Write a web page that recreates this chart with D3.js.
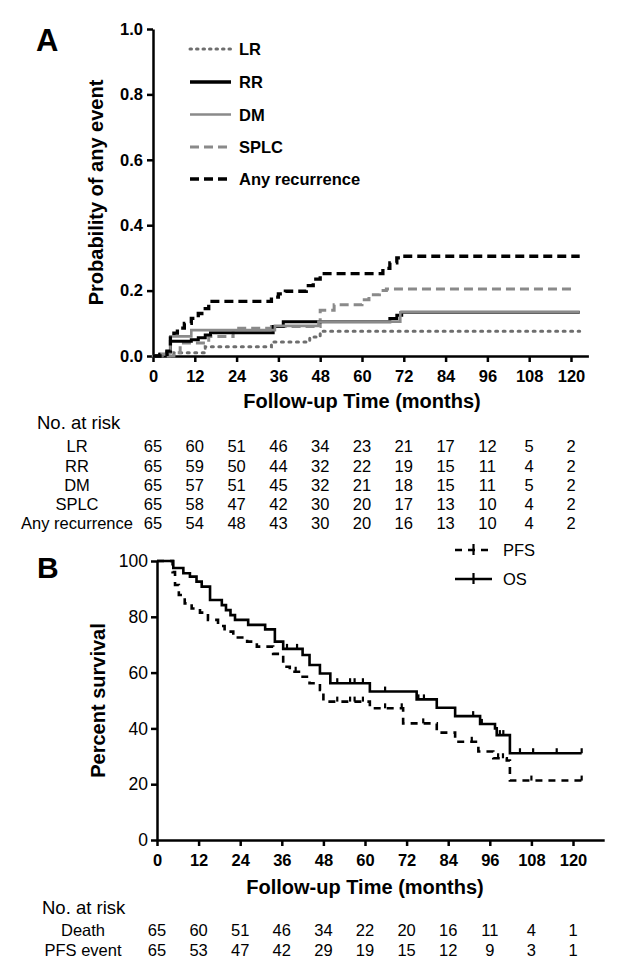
<!DOCTYPE html>
<html><head><meta charset="utf-8">
<script src="https://cdn.jsdelivr.net/npm/d3@7"></script>
<style>
html,body{margin:0;padding:0;background:#fff;}
text{font-family:"Liberation Sans",Arial,sans-serif;}
</style></head>
<body><svg id="chart" width="629" height="976"></svg>
<script>
// ---------- DATA ----------
const timeTicks = [0,12,24,36,48,60,72,84,96,108,120];
const probTicks = [0,0.2,0.4,0.6,0.8,1.0];
const survTicks = [0,20,40,60,80,100];

// Panel A cumulative incidence step data [month, probability]
const LR  = [[0,0],[6,0.01],[15,0.028],[34,0.043],[45,0.058],[48,0.076],[122.5,0.076]];
const RR  = [[0,0],[2,0.005],[4,0.012],[5,0.045],[11,0.05],[13,0.056],[15,0.064],[16.5,0.071],[34.5,0.09],[37.4,0.105],[68,0.115],[70,0.125],[71.4,0.134],[122.5,0.134]];
const DM  = [[0,0],[2,0.005],[4,0.012],[5,0.06],[11,0.079],[35,0.092],[47.5,0.105],[71,0.134],[122.5,0.134]];
const SPLC= [[0,0],[6,0.01],[7.8,0.04],[16,0.06],[23,0.085],[34,0.09],[48,0.14],[52,0.157],[60,0.172],[62,0.187],[65,0.2],[67,0.205],[121,0.205]];
const ANY = [[0,0],[2,0.005],[4,0.015],[5,0.055],[6,0.07],[7,0.085],[9,0.1],[11,0.115],[13,0.13],[15,0.145],[16,0.167],[34,0.18],[36,0.19],[38,0.198],[44,0.215],[46,0.235],[48,0.252],[66,0.268],[68,0.285],[70,0.3],[71.5,0.305],[122.5,0.305]];
const seriesNamesA = ["LR","RR","DM","SPLC","Any recurrence"];

// Panel B survival step data [month, percent]
const OS  = [[0,100],[4.7,97.5],[7.6,95.6],[9.5,94.4],[11.4,92.6],[12.9,90.8],[15.3,86],[18.7,84.2],[19.9,82.4],[21.2,80.6],[22.5,78.9],[26.3,77.1],[31.2,75.5],[34,71.1],[36.4,68.5],[42,66.3],[44,62.7],[47,59.7],[50,56.2],[61.4,53.2],[74.9,50.4],[80.7,47.4],[86,44.4],[93.2,41.6],[97.5,40],[98,37.6],[101.8,31.1],[122.5,31.1]];
const PFS = [[0,100],[4.5,96],[5.2,91.4],[6.3,87.8],[8,84.8],[10,83],[12.4,81.5],[14.7,78.9],[17.6,76.7],[19.5,74.7],[22,72.6],[26,71.1],[28.8,69.3],[33.5,66.7],[36.4,62.1],[38.3,60.3],[42,58.5],[44,56.2],[47,53.8],[48,49.6],[61.4,47.2],[71,41.8],[80.7,38.5],[86,35.2],[92.7,31.7],[97,29.3],[100.9,28.5],[101.8,21.3],[122.5,21.3]];
const osCensor  = [37.5,40.4,52,55.7,57,59.4,65.8,75.4,77,91.2,93.7,98.9,99.9,104.7,108.5,115.3,122.5];
const pfsCensor = [40,52,55.7,57,59.4,65.8,70.6,76.8,90.8,98.4,99.8,108,122.5];

// Risk tables
const riskLabelsA = ["LR","RR","DM","SPLC","Any recurrence"];
const riskA = [
  [65,60,51,46,34,23,21,17,12,5,2],
  [65,59,50,44,32,22,19,15,11,4,2],
  [65,57,51,45,32,21,18,15,11,5,2],
  [65,58,47,42,30,20,17,13,10,4,2],
  [65,54,48,43,30,20,16,13,10,4,2]
];
const riskLabelsB = ["Death","PFS event"];
const riskB = [
  [65,60,51,46,34,22,20,16,11,4,1],
  [65,53,47,42,29,19,15,12,9,3,1]
];

// ---------- DRAW ----------
const svg = d3.select("#chart");
const bold = "bold";

function styleAxis(g, fs){
  g.select(".domain").attr("stroke","#000").attr("stroke-width",2.5);
  g.selectAll(".tick line").attr("stroke","#000").attr("stroke-width",2.5);
  g.selectAll(".tick text").attr("fill","#000").attr("font-size",fs).attr("font-weight","bold")
    .attr("font-family","Liberation Sans, Arial, sans-serif");
}

// ===== Panel A =====
const xA = d3.scaleLinear().domain([0,125]).range([153,588.4]);
const yA = d3.scaleLinear().domain([0,1]).range([356,29]);

const gxA = svg.append("g").attr("transform",`translate(0,${yA(0)})`)
  .call(d3.axisBottom(xA).tickValues(timeTicks).tickSize(6).tickSizeOuter(0).tickPadding(8));
styleAxis(gxA,"16.5px");
const gyA = svg.append("g").attr("transform",`translate(${xA(0)},0)`)
  .call(d3.axisLeft(yA).tickValues(probTicks).tickFormat(d3.format(".1f")).tickSize(6).tickSizeOuter(0).tickPadding(4));
styleAxis(gyA,"16.5px");

const lineA = d3.line().x(d=>xA(d[0])).y(d=>yA(d[1])).curve(d3.curveStepAfter);
const stylesA = [
  {data:LR,  color:"#6e6e6e", w:3,   dash:"2,5.5", cap:"round"},
  {data:SPLC,color:"#8a8a8a", w:3,   dash:"9,5",   cap:"butt"},
  {data:RR,  color:"#000",    w:3,   dash:null,    cap:"butt"},
  {data:DM,  color:"#8a8a8a", w:2.6, dash:null,    cap:"butt"},
  {data:ANY, color:"#000",    w:3.3, dash:"9,5",   cap:"butt"}
];
stylesA.forEach(s=>{
  svg.append("path").attr("d",lineA(s.data)).attr("fill","none")
    .attr("stroke",s.color).attr("stroke-width",s.w)
    .attr("stroke-dasharray",s.dash).attr("stroke-linecap",s.cap);
});

// legend A
const legA = [
  {name:"LR", color:"#6e6e6e", w:3, dash:"1.5,5", cap:"round", y:49},
  {name:"RR", color:"#000", w:3.3, dash:null, cap:"butt", y:82},
  {name:"DM", color:"#8a8a8a", w:2.6, dash:null, cap:"butt", y:114.5},
  {name:"SPLC", color:"#8a8a8a", w:3, dash:"9,5", cap:"butt", y:147},
  {name:"Any recurrence", color:"#000", w:3.3, dash:"9,5", cap:"butt", y:179}
];
legA.forEach(l=>{
  svg.append("line").attr("x1",190).attr("x2",231).attr("y1",l.y).attr("y2",l.y)
    .attr("stroke",l.color).attr("stroke-width",l.w).attr("stroke-dasharray",l.dash).attr("stroke-linecap",l.cap);
  svg.append("text").attr("x",239).attr("y",l.y+6).attr("font-size","16.5px").attr("font-weight",bold).text(l.name);
});

svg.append("text").attr("x",36).attr("y",51).attr("font-size","31px").attr("font-weight",bold).text("A");
svg.append("text").attr("transform",`translate(103,${yA(0.5)}) rotate(-90)`).attr("text-anchor","middle")
  .attr("font-size","20px").attr("font-weight",bold).text("Probability of any event");
svg.append("text").attr("x",xA(60)).attr("y",408).attr("text-anchor","middle")
  .attr("font-size","20px").attr("font-weight",bold).text("Follow-up Time (months)");

// risk table A
svg.append("text").attr("x",37).attr("y",429).attr("font-size","18.5px").text("No. at risk");
const rowYA = [452,471.5,491,510,529];
riskA.forEach((row,i)=>{
  svg.append("text").attr("x",77).attr("y",rowYA[i]).attr("text-anchor","middle").attr("font-size","16.5px").text(riskLabelsA[i]);
  row.forEach((v,j)=>{
    svg.append("text").attr("x",xA(timeTicks[j])).attr("y",rowYA[i]).attr("text-anchor","middle").attr("font-size","16.5px").text(v);
  });
});

// ===== Panel B =====
const xB = d3.scaleLinear().domain([0,129]).range([157,604.2]);
const yB = d3.scaleLinear().domain([0,100]).range([840,561]);

const gxB = svg.append("g").attr("transform",`translate(0,${yB(0)})`)
  .call(d3.axisBottom(xB).tickValues(timeTicks).tickSize(6).tickSizeOuter(0).tickPadding(8));
styleAxis(gxB,"16.5px");
const gyB = svg.append("g").attr("transform",`translate(${xB(0)},0)`)
  .call(d3.axisLeft(yB).tickValues(survTicks).tickSize(6).tickSizeOuter(0).tickPadding(3));
styleAxis(gyB,"17px");
gyB.selectAll(".tick text").attr("font-weight","normal").attr("font-size","17.5px");

const lineB = d3.line().x(d=>xB(d[0])).y(d=>yB(d[1])).curve(d3.curveStepAfter);
svg.append("path").attr("d",lineB(PFS)).attr("fill","none").attr("stroke","#000")
  .attr("stroke-width",2.6).attr("stroke-dasharray","7,6");
svg.append("path").attr("d",lineB(OS)).attr("fill","none").attr("stroke","#000").attr("stroke-width",2.6);

function stepVal(data,t){ let v=data[0][1]; for(const d of data){ if(d[0]<=t) v=d[1]; } return v; }
osCensor.forEach(t=>{
  svg.append("line").attr("x1",xB(t)).attr("x2",xB(t)).attr("y1",yB(stepVal(OS,t))-5).attr("y2",yB(stepVal(OS,t)))
    .attr("stroke","#000").attr("stroke-width",2.2);
});
pfsCensor.forEach(t=>{
  svg.append("line").attr("x1",xB(t)).attr("x2",xB(t)).attr("y1",yB(stepVal(PFS,t))-5).attr("y2",yB(stepVal(PFS,t)))
    .attr("stroke","#000").attr("stroke-width",2.2);
});

// legend B
const legB = [{name:"PFS", dash:"7,6", y:550},{name:"OS", dash:null, y:579}];
legB.forEach(l=>{
  svg.append("line").attr("x1",455).attr("x2",492).attr("y1",l.y).attr("y2",l.y)
    .attr("stroke","#000").attr("stroke-width",2.6).attr("stroke-dasharray",l.dash);
  svg.append("line").attr("x1",473.5).attr("x2",473.5).attr("y1",l.y-6).attr("y2",l.y+5)
    .attr("stroke","#000").attr("stroke-width",2.2);
  svg.append("text").attr("x",503).attr("y",l.y+6).attr("font-size","16.5px").text(l.name);
});

svg.append("text").attr("x",37).attr("y",578).attr("font-size","30px").attr("font-weight",bold).text("B");
svg.append("text").attr("transform",`translate(105,${yB(50)}) rotate(-90)`).attr("text-anchor","middle")
  .attr("font-size","20px").attr("font-weight",bold).text("Percent survival");
svg.append("text").attr("x",xB(60)).attr("y",894).attr("text-anchor","middle")
  .attr("font-size","20px").attr("font-weight",bold).text("Follow-up Time (months)");

svg.append("text").attr("x",42).attr("y",914).attr("font-size","18.5px").text("No. at risk");
const rowYB = [936,956];
riskB.forEach((row,i)=>{
  svg.append("text").attr("x",83).attr("y",rowYB[i]).attr("text-anchor","middle").attr("font-size","16.5px").text(riskLabelsB[i]);
  row.forEach((v,j)=>{
    svg.append("text").attr("x",xB(timeTicks[j])).attr("y",rowYB[i]).attr("text-anchor","middle").attr("font-size","16.5px").text(v);
  });
});
</script>
</body></html>
